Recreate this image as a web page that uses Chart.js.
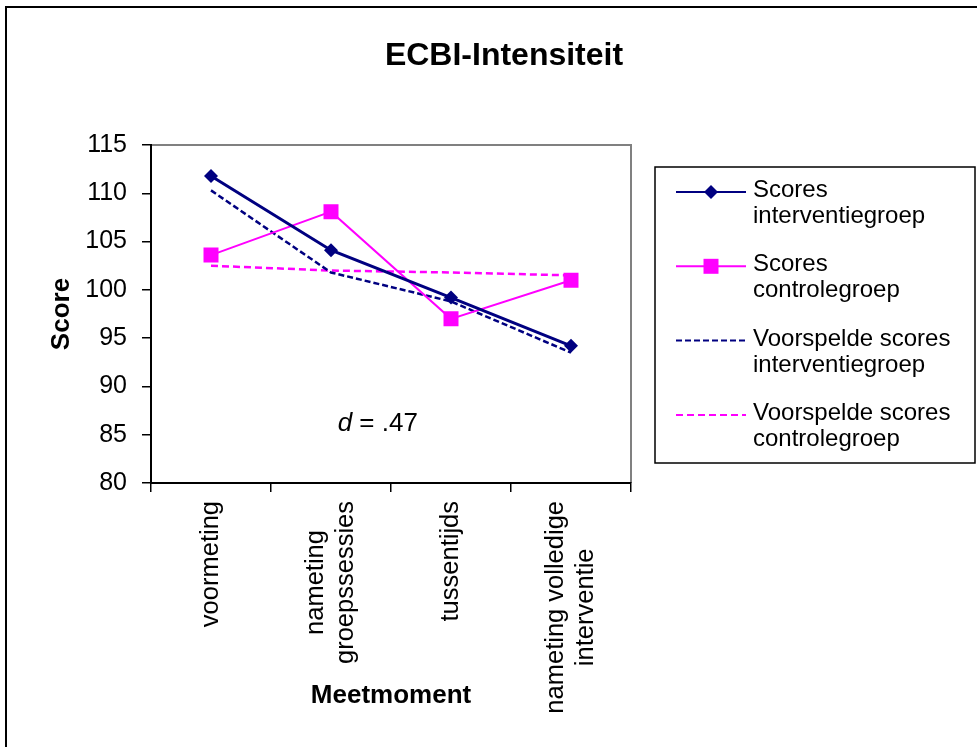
<!DOCTYPE html>
<html>
<head>
<meta charset="utf-8">
<script src="https://cdn.jsdelivr.net/npm/chart.js@4.4.1/dist/chart.umd.min.js"></script>
<style>
  html, body { margin: 0; padding: 0; background: #fff; }
  canvas { display: block; }
</style>
</head>
<body>
<canvas id="myChart" width="977" height="747"></canvas>
<script>
// values
var categories = [['voormeting'], ['nameting', 'groepssessies'], ['tussentijds'], ['nameting volledige', 'interventie']];
var seriesNames = [['Scores', 'interventiegroep'], ['Scores', 'controlegroep'],
                   ['Voorspelde scores', 'interventiegroep'], ['Voorspelde scores', 'controlegroep']];
var scoresInterventie = [111.8, 104.1, 99.2, 94.2];
var scoresControle = [103.6, 108.1, 97.0, 101.0];
var voorspeldInterventie = [110.3, 101.8, 98.8, 93.5];
var voorspeldControle = [102.5, 102.0, 101.8, 101.5];
var yMin = 80, yMax = 115, yStep = 5;
var chartTitle = 'ECBI-Intensiteit';
var yTitle = 'Score';
var xTitle = 'Meetmoment';
var effectText = ['d', ' = .47'];
var effectAt = [1.39, 86.1];   // category index, score

var NAVY = '#000080';
var MAGENTA = '#FF00FF';
var FONT = "'Liberation Sans', Arial, sans-serif";

Chart.defaults.font.family = FONT;
Chart.defaults.color = '#000';

function drawMarker(ctx, style, x, y, r, color) {
  ctx.save();
  ctx.fillStyle = color;
  ctx.beginPath();
  if (style === 'rectRot') {
    ctx.moveTo(x - r, y); ctx.lineTo(x, y - r); ctx.lineTo(x + r, y); ctx.lineTo(x, y + r);
  } else {
    var s = r * Math.SQRT1_2;
    ctx.rect(x - s, y - s, 2 * s, 2 * s);
  }
  ctx.closePath();
  ctx.fill();
  ctx.restore();
}

var ecbiPlugin = {
  id: 'ecbi',
  beforeDraw: function(chart) {
    var ctx = chart.ctx, a = chart.chartArea;
    ctx.save();
    // outer frame (only top and left edges fall inside the picture)
    ctx.strokeStyle = '#000';
    ctx.lineWidth = 2;
    ctx.strokeRect(6, 7, 1200, 1200);
    // title
    ctx.fillStyle = '#000';
    ctx.font = 'bold 32px ' + FONT;
    ctx.textAlign = 'center';
    ctx.textBaseline = 'alphabetic';
    ctx.fillText(chartTitle, 504, 65);
    // grey top/right plot border
    ctx.strokeStyle = '#808080';
    ctx.lineWidth = 2;
    ctx.beginPath();
    ctx.moveTo(a.left, a.top);
    ctx.lineTo(a.right, a.top);
    ctx.lineTo(a.right, a.bottom);
    ctx.stroke();
    ctx.restore();
  },
  afterDraw: function(chart) {
    var ctx = chart.ctx;
    var xs = chart.scales.x, ys = chart.scales.y;
    ctx.save();
    ctx.fillStyle = '#000';

    // category labels, rotated, lines centred in their block
    ctx.font = '25.5px ' + FONT;
    ctx.textBaseline = 'middle';
    ctx.textAlign = 'center';
    for (var i = 0; i < categories.length; i++) {
      var lines = categories[i];
      var w = 0;
      for (var j = 0; j < lines.length; j++) w = Math.max(w, ctx.measureText(lines[j]).width);
      ctx.save();
      ctx.translate(xs.getPixelForValue(i), 501);
      ctx.rotate(-Math.PI / 2);
      for (var j = 0; j < lines.length; j++) {
        ctx.fillText(lines[j], -w / 2, (j - (lines.length - 1) / 2) * 30);
      }
      ctx.restore();
    }

    // effect size note
    ctx.font = 'italic 26px ' + FONT;
    var w1 = ctx.measureText(effectText[0]).width;
    ctx.font = '26px ' + FONT;
    var w2 = ctx.measureText(effectText[1]).width;
    var ex = xs.getPixelForValue(effectAt[0]) - (w1 + w2) / 2;
    var ey = ys.getPixelForValue(effectAt[1]);
    ctx.textAlign = 'left';
    ctx.textBaseline = 'middle';
    ctx.font = 'italic 26px ' + FONT;
    ctx.fillText(effectText[0], ex, ey);
    ctx.font = '26px ' + FONT;
    ctx.fillText(effectText[1], ex + w1, ey);

    // legend box
    ctx.strokeStyle = '#000';
    ctx.lineWidth = 1.5;
    ctx.strokeRect(655, 167, 320, 296);
    ctx.font = '24px ' + FONT;
    ctx.textBaseline = 'alphabetic';
    var dsets = chart.data.datasets;
    for (var k = 0; k < dsets.length; k++) {
      var ds = dsets[k];
      var y = 192 + k * 74.3;
      ctx.save();
      ctx.strokeStyle = ds.borderColor;
      ctx.lineWidth = 2;
      ctx.setLineDash(ds.borderDash || []);
      ctx.beginPath();
      ctx.moveTo(676, y);
      ctx.lineTo(746, y);
      ctx.stroke();
      ctx.restore();
      if (ds.pointRadius > 0) drawMarker(ctx, ds.pointStyle, 711, y, ds.pointRadius, ds.pointBackgroundColor);
      for (var m = 0; m < seriesNames[k].length; m++) {
        ctx.fillText(seriesNames[k][m], 753, y + 5 + m * 26);
      }
    }
    ctx.restore();
  }
};

var data = {
  labels: categories.map(function(c) { return c.join(' '); }),
  datasets: [{
    label: seriesNames[0].join(' '),
    data: scoresInterventie,
    borderColor: NAVY, borderWidth: 3,
    pointStyle: 'rectRot', pointRadius: 7,
    pointBackgroundColor: NAVY, pointBorderColor: NAVY, pointBorderWidth: 0,
    tension: 0
  }, {
    label: seriesNames[1].join(' '),
    data: scoresControle,
    borderColor: MAGENTA, borderWidth: 2,
    pointStyle: 'rect', pointRadius: 10.6,
    pointBackgroundColor: MAGENTA, pointBorderColor: MAGENTA, pointBorderWidth: 0,
    tension: 0
  }, {
    label: seriesNames[2].join(' '),
    data: voorspeldInterventie,
    borderColor: NAVY, borderWidth: 2.5, borderDash: [6, 3],
    pointRadius: 0, tension: 0
  }, {
    label: seriesNames[3].join(' '),
    data: voorspeldControle,
    borderColor: MAGENTA, borderWidth: 2.5, borderDash: [7, 4],
    pointRadius: 0, tension: 0
  }]
};

var config = {
  type: 'line',
  data: data,
  options: {
    responsive: false,
    animation: false,
    events: [],
    layout: { padding: { left: 0, top: 145, right: 346, bottom: 0 } },
    plugins: { legend: { display: false }, title: { display: false }, tooltip: { enabled: false } },
    scales: {
      x: {
        type: 'category',
        offset: true,
        grid: { display: true, offset: true, drawOnChartArea: false, drawTicks: true, tickLength: 9, color: '#000', lineWidth: 1.5 },
        border: { display: true, color: '#000', width: 2 },
        ticks: { display: false },
        title: { display: true, text: xTitle, font: { size: 26, weight: 'bold' }, padding: { top: 0, bottom: 36 } },
        afterFit: function(scale) { scale.height = 264; }
      },
      y: {
        min: yMin, max: yMax,
        grid: { display: true, drawOnChartArea: false, drawTicks: true, tickLength: 9, color: '#000', lineWidth: 1.5 },
        border: { display: true, color: '#000', width: 2 },
        ticks: { stepSize: yStep, padding: 15, font: { size: 25 }, color: '#000' },
        title: { display: true, text: yTitle, font: { size: 26, weight: 'bold' }, padding: { top: 46, bottom: 0 } },
        afterFit: function(scale) { scale.width = 151; }
      }
    }
  },
  plugins: [ecbiPlugin]
};

var myChart = new Chart(document.getElementById('myChart'), config);
</script>
</body>
</html>
